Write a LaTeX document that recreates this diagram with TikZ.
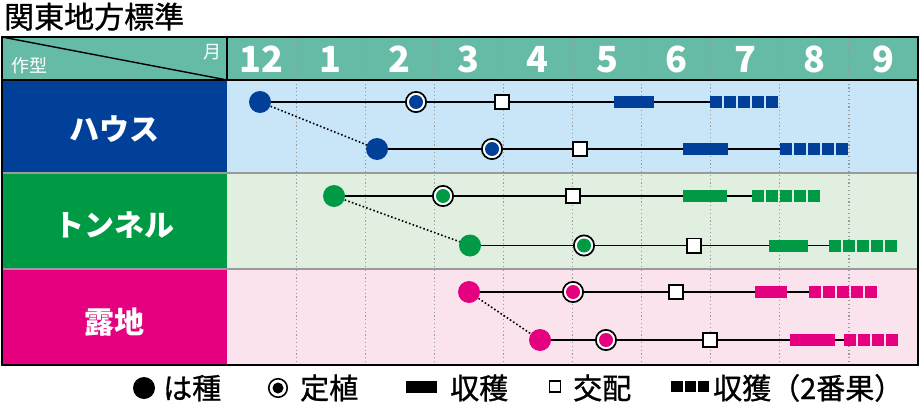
\documentclass[tikz,border=0pt]{standalone}
\usepackage{fontspec}
\setmainfont{Noto Sans CJK JP}
\newfontfamily\medfont{Noto Sans CJK JP}[FakeBold=1]
\definecolor{hblue}{HTML}{004098}
\definecolor{tgreen}{HTML}{009944}
\definecolor{rpink}{HTML}{E4007F}
\definecolor{lblue}{HTML}{C8E6F8}
\definecolor{lgreen}{HTML}{E1EFE1}
\definecolor{lpink}{HTML}{FBE3EE}
\definecolor{headteal}{HTML}{66BBA6}
\definecolor{sepgray}{HTML}{9A9A9A}
\pgfdeclarelayer{bg}
\pgfdeclarelayer{lines}
\pgfsetlayers{bg,lines,main}
\begin{document}
\begin{tikzpicture}[x=1pt,y=-1pt,
  sow/.style={circle, fill=#1, minimum size=22pt, inner sep=0pt},
  plant/.style={circle, draw=black, line width=1.7pt, fill=white, minimum size=20.3pt, inner sep=0pt,
     path picture={\fill[#1] (path picture bounding box.center) circle (7pt);}},
  legplant/.style={circle, draw=black, line width=1.6pt, fill=white, minimum size=18.5pt, inner sep=0pt,
     path picture={\fill[black] (path picture bounding box.center) circle (5.5pt);}},
  cross/.style={rectangle, draw=black, line width=1.6pt, fill=white, minimum size=14.4pt, inner sep=0pt},
  harv/.style={rectangle, fill=#1, minimum height=12pt, inner sep=0pt},
  harvsq/.style={rectangle, fill=#1, minimum height=12pt, minimum width=12.4pt, inner sep=0pt},
  link/.style={draw=black, line width=1.8pt},
  relay/.style={draw=black, line width=1.6pt, dash pattern=on 1.6pt off 2.2pt},
  colline/.style={draw=sepgray, line width=1.2pt, dash pattern=on 1.2pt off 2.6pt},
  month/.style={anchor=base, text=white, inner sep=0pt, font=\fontsize{36}{36}\selectfont\bfseries},
  rowlbl/.style={anchor=base, text=white, inner sep=0pt, font=\fontsize{30}{30}\selectfont\bfseries},
  legtxt/.style={anchor=base west, inner sep=0pt, font=\medfont\fontsize{29}{29}\selectfont},
]
\useasboundingbox (0,0) rectangle (920,412);

\begin{pgfonlayer}{bg}
  % fills
  \fill[headteal] (2,37) rectangle (918,80);
  \fill[hblue] (2,80) rectangle (227,173);
  \fill[tgreen] (2,173) rectangle (227,269);
  \fill[rpink] (2,269) rectangle (227,365);
  \fill[lblue] (227,80) rectangle (918,173);
  \fill[lgreen] (227,173) rectangle (918,269);
  \fill[lpink] (227,269) rectangle (918,365);
  % column lines
  \foreach \i in {1,...,9}
    \draw[colline] ({227+69.1*\i},38) -- ({227+69.1*\i},364);
  % row separators
  \draw[sepgray, line width=1.5pt] (2,173) -- (918,173);
  \draw[sepgray, line width=1.5pt] (2,269) -- (918,269);
  % header lines
  \draw[black, line width=2pt] (2,80) -- (918,80);
  \draw[black, line width=1.5pt] (227,37) -- (227,80);
  \draw[black, line width=1.4pt] (2,37) -- (227,80);
  % outer border
  \draw[black, line width=1.8pt] (2,37) rectangle (918,365);
\end{pgfonlayer}

% title
\node[anchor=base west, inner sep=0pt, font=\medfont\fontsize{30}{30}\selectfont] (title) at (4,28) {関東地方標準};

% header texts
\node[anchor=base west, inner sep=0pt, text=white, font=\fontsize{18}{18}\selectfont] (sakugata) at (11,72) {作型};
\node[anchor=base east, inner sep=0pt, text=white, font=\fontsize{18}{18}\selectfont] (tsuki) at (222,59) {月};
\foreach \m [count=\i from 0] in {12,1,2,3,4,5,6,7,8,9}
  \node[month] (m\i) at ({227+69.1*(\i+0.5)},72) {\m};

% row labels
\node[rowlbl] (lh) at (114.5,140) {ハウス};
\node[rowlbl] (lt) at (114.5,236) {トンネル};
\node[rowlbl] (lr) at (114.5,333) {露地};

% ---------- House ----------
\node[sow=hblue] (hs1) at (260,102) {};
\node[plant=hblue] (hp1) at (416,102) {};
\node[cross] (hc1) at (502,102) {};
\node[harv=hblue, minimum width=40pt] (hh1) at (634,102) {};
\foreach \k in {0,...,4} \node[harvsq=hblue] (hq1\k) at ({710+6.2+13.9*\k},102) {};

\node[sow=hblue] (hs2) at (377,149) {};
\node[plant=hblue] (hp2) at (492,149) {};
\node[cross] (hc2) at (580,149) {};
\node[harv=hblue, minimum width=45pt] (hh2) at (705.5,149) {};
\foreach \k in {0,...,4} \node[harvsq=hblue] (hq2\k) at ({780+6.2+13.9*\k},149) {};

% ---------- Tunnel ----------
\node[sow=tgreen] (ts1) at (334,196) {};
\node[plant=tgreen] (tp1) at (443,196) {};
\node[cross] (tc1) at (573,196) {};
\node[harv=tgreen, minimum width=44pt] (th1) at (705,196) {};
\foreach \k in {0,...,4} \node[harvsq=tgreen] (tq1\k) at ({752+6.2+13.9*\k},196) {};

\node[sow=tgreen] (ts2) at (470,245.5) {};
\node[plant=tgreen] (tp2) at (584,245.5) {};
\node[cross] (tc2) at (694,245.5) {};
\node[harv=tgreen, minimum width=39pt] (th2) at (788.5,245.5) {};
\foreach \k in {0,...,4} \node[harvsq=tgreen] (tq2\k) at ({829+6.2+13.9*\k},245.5) {};

% ---------- Roji ----------
\node[sow=rpink] (rs1) at (469,292) {};
\node[plant=rpink] (rp1) at (573,292) {};
\node[cross] (rc1) at (676,292) {};
\node[harv=rpink, minimum width=32pt] (rh1) at (771,292) {};
\foreach \k in {0,...,4} \node[harvsq=rpink] (rq1\k) at ({809+6.2+13.9*\k},292) {};

\node[sow=rpink] (rs2) at (540,340) {};
\node[plant=rpink] (rp2) at (606,340) {};
\node[cross] (rc2) at (710,340) {};
\node[harv=rpink, minimum width=45pt] (rh2) at (812.5,340) {};
\foreach \k in {0,...,3} \node[harvsq=rpink] (rq2\k) at ({844+6.2+13.9*\k},340) {};

% connectors
\begin{pgfonlayer}{lines}
  \draw[link] (hs1.center) -- (hq10.west);
  \draw[link] (hs2.center) -- (hq20.west);
  \draw[link] (ts1.center) -- (tq10.west);
  \draw[link] (ts2.center) -- (tq20.west);
  \draw[link] (rs1.center) -- (rq10.west);
  \draw[link] (rs2.center) -- (rq20.west);
  \draw[relay] (hs1.center) -- (hs2.center);
  \draw[relay] (ts1.center) -- (ts2.center);
  \draw[relay] (rs1.center) -- (rs2.center);
\end{pgfonlayer}

% legend
\node[sow=black] (lg1) at (144,388) {};
\node[legtxt] (lt1) at (163,399) {は種};
\node[legplant] (lg2) at (278,388) {};
\node[legtxt] (lt2) at (300,399) {定植};
\node[rectangle, fill=black, minimum width=31pt, minimum height=12pt, inner sep=0pt] (lg3) at (421,387) {};
\node[legtxt] (lt3) at (450,399) {収穫};
\node[cross, minimum size=11pt, line width=1.4pt] (lg4) at (555,386.5) {};
\node[legtxt] (lt4) at (573,399) {交配};
\foreach \k in {0,1,2} \node[rectangle, fill=black, minimum size=11.5pt, inner sep=0pt] (lq\k) at ({671+6+13.3*\k},386.5) {};
\node[legtxt] (lt5) at (713,399) {収獲（2番果）};
\end{tikzpicture}
\end{document}
